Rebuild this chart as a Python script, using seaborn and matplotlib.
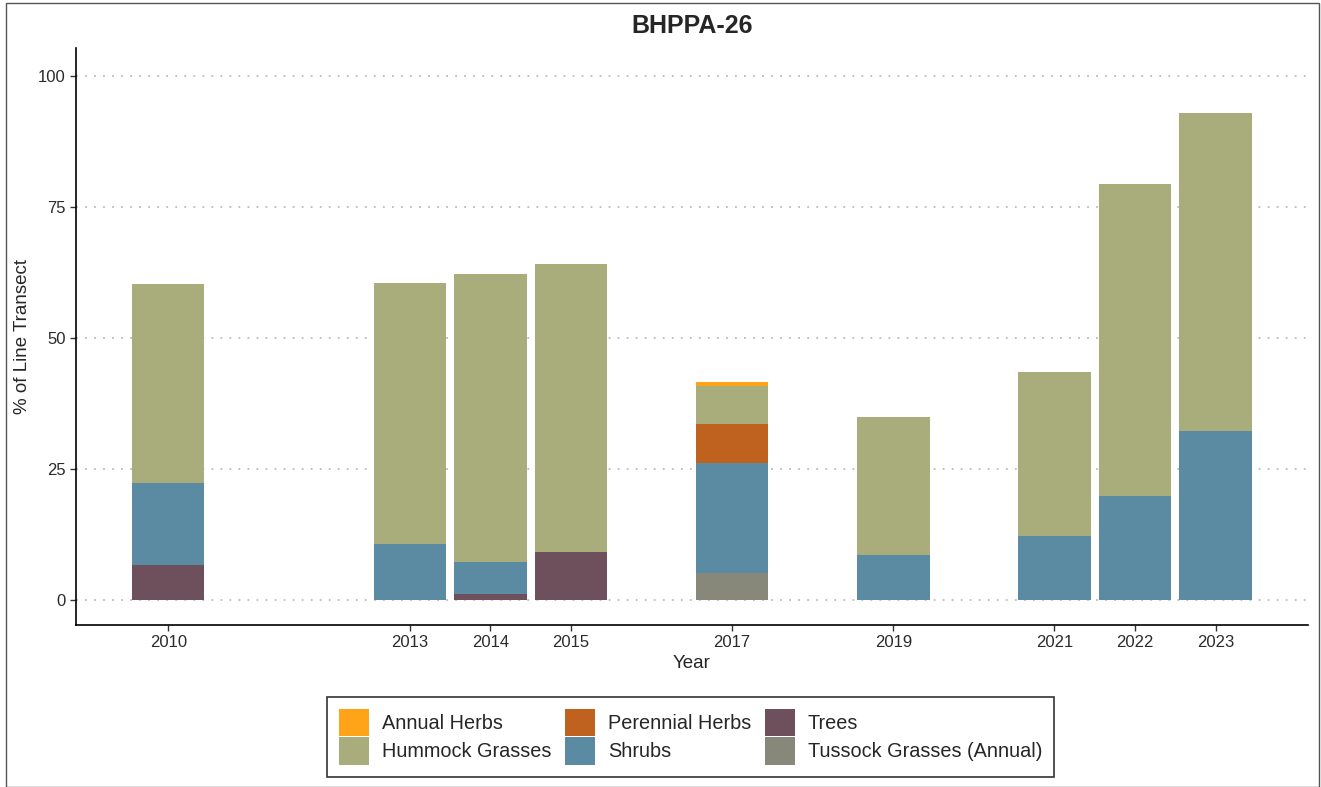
import numpy as np
import pandas as pd
import seaborn as sns
import matplotlib.pyplot as plt
from matplotlib.patches import Patch, Rectangle

years = [2010, 2013, 2014, 2015, 2017, 2019, 2021, 2022, 2023]
groups = ["Annual Herbs", "Hummock Grasses", "Perennial Herbs", "Shrubs",
          "Trees", "Tussock Grasses (Annual)"]

annual_herbs = [0, 0, 0, 0, 0.6, 0, 0, 0, 0]
hummock = [37.9, 49.9, 54.9, 54.9, 7.3, 26.4, 31.3, 59.4, 60.7]
perennial_herbs = [0, 0, 0, 0, 7.5, 0, 0, 0, 0]
shrubs = [15.7, 10.6, 6.1, 0, 21.0, 8.5, 12.1, 19.9, 32.2]
trees = [6.6, 0, 1.1, 9.2, 0, 0, 0, 0, 0]
tussock = [0, 0, 0, 0, 5.1, 0, 0, 0, 0]

colors = ["#FFA319", "#A9AD7B", "#C0621F", "#5A8BA3", "#6E505D", "#87877A"]

rows = []
for g, vals in zip(groups, [annual_herbs, hummock, perennial_herbs, shrubs, trees, tussock]):
    for y, v in zip(years, vals):
        rows.append({"Year": y, "group": g, "cover": v})
df = pd.DataFrame(rows)

sns.set_theme(style="white")
plt.rcParams["font.family"] = ["Liberation Sans", "DejaVu Sans"]

fig = plt.figure(figsize=(13.21, 7.87), dpi=100)
ax = fig.add_axes([0.0575, 0.2058, 0.9325, 0.7332])

# stacked bars, first hue level ends up on top
sns.histplot(data=df, x="Year", weights="cover", hue="group", hue_order=groups,
             palette=colors, multiple="stack", discrete=True, shrink=0.9,
             alpha=1, linewidth=0, legend=False, ax=ax)

ax.set_xlim(2008.855, 2024.145)
ax.set_ylim(-4.8, 105.3)
ax.set_xticks(years)
ax.set_yticks([0, 25, 50, 75, 100])
ax.yaxis.grid(True, linestyle=(0, (1, 4)), color="#BBBBBB", linewidth=1.3)
ax.xaxis.grid(False)
ax.set_axisbelow(True)
for s in ["top", "right"]:
    ax.spines[s].set_visible(False)
for s in ["left", "bottom"]:
    ax.spines[s].set_color("black")
    ax.spines[s].set_linewidth(1.2)
ax.tick_params(axis="both", length=4, width=1, color="#333333",
               labelsize=12, labelcolor="#2b2b2b", bottom=True, left=True)
ax.tick_params(axis="x", pad=3)
ax.set_xlabel("Year", fontsize=13.5, labelpad=4)
ax.set_ylabel("% of Line Transect", fontsize=13.5, labelpad=5)

fig.text(0.524, 1 - 26 / 787, "BHPPA-26", ha="center", va="center",
         fontsize=18, fontweight="bold")

handles = [Patch(facecolor=c, edgecolor="none", label=g) for g, c in zip(groups, colors)]
leg = fig.legend(handles=handles, loc="center", bbox_to_anchor=(0.523, 0.064),
                 ncol=3, fontsize=14.3, frameon=True, fancybox=False,
                 edgecolor="black", handlelength=1.5, handleheight=1.75,
                 labelspacing=0.05, columnspacing=0.7, handletextpad=0.65,
                 borderpad=0.6)
leg.get_frame().set_linewidth(1.2)

fig.patches.append(Rectangle((0.0045, 0.0), 0.994, 0.9965, transform=fig.transFigure,
                             fill=False, edgecolor="#555555", linewidth=1))

fig.savefig("out.png", dpi=100)
